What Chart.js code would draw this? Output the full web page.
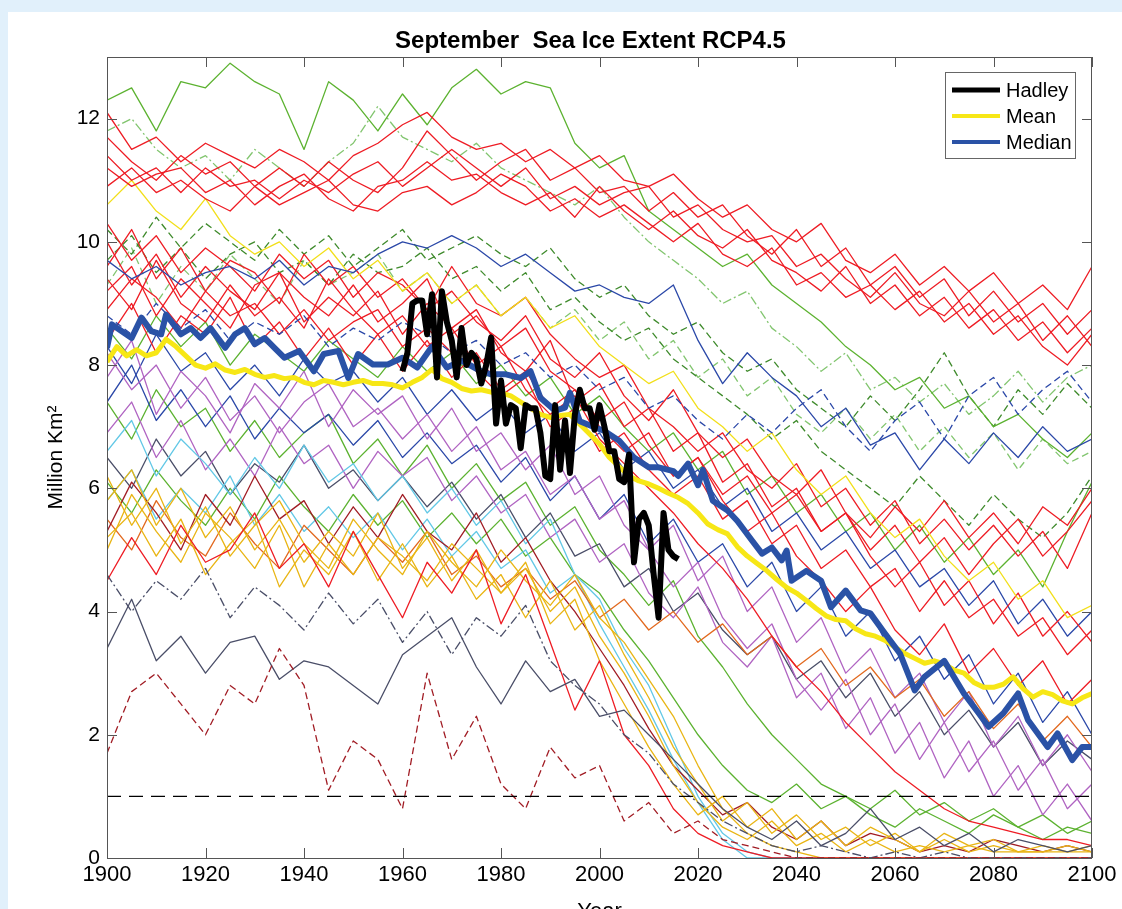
<!DOCTYPE html>
<html>
<head>
<meta charset="utf-8">
<title>September Sea Ice Extent RCP4.5</title>
<script src="https://cdn.jsdelivr.net/npm/chart.js@4.4.1/dist/chart.umd.min.js"></script>
<style>
  html, body { margin: 0; padding: 0; background: #e1f0fb; overflow: hidden; }
  #panel { position: absolute; left: 8px; top: 12px; width: 1114px; height: 897px; background: #fff; }
  #wrap { position: absolute; left: 0; top: 0; width: 1122px; height: 909px; }
</style>
</head>
<body>
<div id="panel"></div>
<div id="wrap"><canvas id="ice" width="1122" height="909"></canvas></div>
<script>
// ---- axis ticks ----
const xTicks = [1900, 1920, 1940, 1960, 1980, 2000, 2020, 2040, 2060, 2080, 2100];
const yTicks = [0, 2, 4, 6, 8, 10, 12];

// ---- observed (Hadley) ----
const hadleyYears = [1960, 1961, 1962, 1963, 1964, 1965, 1966, 1967, 1968, 1969,
  1970, 1971, 1972, 1973, 1974, 1975, 1976, 1977, 1978, 1979,
  1980, 1981, 1982, 1983, 1984, 1985, 1986, 1987, 1988, 1989,
  1990, 1991, 1992, 1993, 1994, 1995, 1996, 1997, 1998, 1999,
  2000, 2001, 2002, 2003, 2004, 2005, 2006, 2007, 2008, 2009,
  2010, 2011, 2012, 2013, 2014, 2015, 2016];
const hadley = [7.9, 8.2, 9.0, 9.05, 9.05, 8.5, 9.15, 7.8, 9.2, 8.7,
  8.4, 7.8, 8.6, 8.0, 8.2, 8.1, 7.7, 8.0, 8.45, 7.05,
  7.75, 7.05, 7.35, 7.3, 6.65, 7.35, 7.3, 7.3, 6.9, 6.2,
  6.15, 7.35, 6.3, 7.1, 6.25, 7.2, 7.6, 7.3, 7.3, 6.95,
  7.35, 7.0, 6.6, 6.6, 6.15, 6.1, 6.55, 4.8, 5.5, 5.6,
  5.4, 4.6, 3.9, 5.6, 5.0, 4.9, 4.85];

// ---- ensemble mean ----
const meanYears = [1900, 1902, 1904, 1906, 1908, 1910, 1912, 1914, 1916, 1918,
  1920, 1922, 1924, 1926, 1928, 1930, 1932, 1934, 1936, 1938,
  1940, 1942, 1944, 1946, 1948, 1950, 1952, 1954, 1956, 1958,
  1960, 1962, 1964, 1966, 1968, 1970, 1972, 1974, 1976, 1978,
  1980, 1982, 1984, 1986, 1988, 1990, 1992, 1994, 1996, 1998,
  2000, 2002, 2004, 2006, 2008, 2010, 2012, 2014, 2016, 2018,
  2020, 2022, 2024, 2026, 2028, 2030, 2032, 2034, 2036, 2038,
  2040, 2042, 2044, 2046, 2048, 2050, 2052, 2054, 2056, 2058,
  2060, 2062, 2064, 2066, 2068, 2070, 2072, 2074, 2076, 2078,
  2080, 2082, 2084, 2086, 2088, 2090, 2092, 2094, 2096, 2098, 2100];
const meanVals = [8.05, 8.3, 8.15, 8.25, 8.15, 8.2, 8.42, 8.3, 8.15, 8.0,
  7.95, 8.02, 7.92, 7.88, 7.93, 7.85, 7.8, 7.83, 7.78, 7.8,
  7.72, 7.68, 7.75, 7.72, 7.68, 7.72, 7.75, 7.7, 7.7, 7.68,
  7.63, 7.72, 7.8, 7.93, 7.78, 7.72, 7.62, 7.58, 7.6, 7.56,
  7.55, 7.5, 7.4, 7.3, 7.2, 7.15, 7.18, 7.2, 7.04, 6.88,
  6.72, 6.5, 6.35, 6.2, 6.12, 6.07, 6.0, 5.92, 5.85, 5.75,
  5.6, 5.42, 5.33, 5.26, 5.05, 4.9, 4.78, 4.66, 4.52, 4.39,
  4.3, 4.18, 4.05, 3.93, 3.87, 3.85, 3.72, 3.64, 3.6, 3.53,
  3.42, 3.32, 3.24, 3.16, 3.2, 3.15, 3.05, 3.0, 2.85, 2.77,
  2.77, 2.82, 2.94, 2.75, 2.61, 2.7, 2.65, 2.55, 2.5, 2.6, 2.67];

// ---- ensemble median ----
const medianYears = [1900, 1901, 1903, 1905, 1907, 1909, 1911, 1912, 1915, 1917,
  1919, 1921, 1924, 1926, 1928, 1930, 1932, 1934, 1936, 1939,
  1942, 1944, 1947, 1949, 1951, 1954, 1957, 1960, 1963, 1966,
  1969, 1972, 1976, 1978, 1981, 1984, 1986, 1988, 1991, 1993,
  1994, 1996, 1999, 2001, 2004, 2007, 2010, 2012, 2015, 2016,
  2018, 2020, 2021, 2023, 2026, 2028, 2031, 2033, 2035, 2037,
  2038, 2039, 2042, 2045, 2047, 2050, 2053, 2055, 2058, 2061,
  2064, 2066, 2070, 2074, 2077, 2079, 2082, 2085, 2087, 2091,
  2093, 2096, 2098, 2100];
const medianVals = [8.28, 8.66, 8.55, 8.44, 8.77, 8.55, 8.5, 8.82, 8.5, 8.6,
  8.44, 8.6, 8.28, 8.5, 8.6, 8.34, 8.44, 8.28, 8.12, 8.23,
  7.9, 8.18, 8.23, 7.79, 8.18, 8.01, 8.01, 8.12, 7.96, 8.3,
  7.96, 8.07, 7.9, 7.85, 7.85, 7.79, 7.9, 7.47, 7.26, 7.31,
  7.55, 7.09, 6.99, 6.93, 6.77, 6.5, 6.34, 6.34, 6.28, 6.2,
  6.4, 6.05, 6.3, 5.8, 5.64, 5.47, 5.15, 4.94, 5.04, 4.83,
  4.99, 4.5, 4.66, 4.5, 4.07, 4.34, 4.02, 3.97, 3.64, 3.32,
  2.72, 2.94, 3.2, 2.67, 2.35, 2.13, 2.35, 2.67, 2.24, 1.8,
  2.02, 1.59, 1.8, 1.8];

// ---- reference line ----
const refYears = [1900, 2100];
const refVals = [1, 1];

// ---- individual model runs (every 5 years) ----
const modelYears = [1900, 1905, 1910, 1915, 1920, 1925, 1930, 1935, 1940, 1945,
  1950, 1955, 1960, 1965, 1970, 1975, 1980, 1985, 1990, 1995,
  2000, 2005, 2010, 2015, 2020, 2025, 2030, 2035, 2040, 2045,
  2050, 2055, 2060, 2065, 2070, 2075, 2080, 2085, 2090, 2095, 2100];

const r1 = [12.1, 11.5, 11.7, 11.3, 11.6, 11.4, 11.2, 11.5, 11.3, 11.0, 11.4, 11.6, 11.9, 12.1, 11.7, 11.5, 11.6, 11.3, 11.5, 11.2, 11.4, 11.0, 10.9, 11.1, 10.7, 10.4, 10.6, 10.2, 10.0, 10.3, 9.7, 9.5, 9.8, 9.3, 9.6, 9.2, 9.5, 9.0, 9.3, 8.9, 9.6];
const r2 = [11.7, 11.3, 11.0, 11.4, 11.1, 11.3, 10.9, 11.2, 10.9, 11.3, 11.0, 10.8, 11.2, 11.8, 11.4, 11.0, 11.3, 11.5, 11.0, 11.2, 10.8, 10.9, 10.5, 10.8, 10.4, 10.6, 10.1, 9.8, 10.2, 9.6, 9.9, 9.3, 9.6, 9.1, 9.4, 8.8, 9.2, 8.7, 9.0, 8.5, 8.9];
const r3 = [11.4, 11.0, 11.2, 10.8, 11.2, 10.9, 11.0, 10.7, 11.0, 10.8, 11.1, 11.3, 10.9, 11.2, 11.5, 11.2, 10.9, 11.2, 10.7, 10.9, 10.6, 10.8, 10.9, 10.4, 10.6, 10.2, 10.0, 10.1, 9.6, 9.8, 9.4, 9.1, 9.5, 9.0, 8.8, 9.2, 8.7, 9.0, 8.4, 8.8, 8.3];
const r4 = [11.2, 10.9, 11.1, 11.2, 10.8, 11.0, 10.6, 10.9, 11.1, 10.7, 10.5, 10.9, 11.0, 11.3, 11.0, 11.1, 10.8, 10.6, 10.8, 10.4, 10.9, 10.5, 10.2, 10.5, 10.1, 9.9, 10.2, 9.7, 9.5, 9.2, 9.6, 9.0, 9.3, 8.8, 9.1, 8.6, 8.9, 8.4, 8.7, 8.2, 8.6];
const r5 = [10.9, 11.2, 10.8, 11.0, 10.7, 10.5, 10.9, 10.6, 10.8, 11.0, 10.6, 10.5, 10.8, 10.9, 10.6, 10.8, 11.1, 10.9, 10.5, 10.7, 10.4, 10.6, 10.3, 10.0, 10.3, 9.8, 9.6, 9.9, 9.3, 9.5, 9.1, 9.3, 8.9, 9.2, 8.7, 9.0, 8.5, 8.8, 8.3, 8.0, 8.5];
const r6 = [9.6, 10.2, 9.4, 9.9, 9.2, 9.7, 9.5, 9.0, 9.8, 9.3, 9.6, 9.1, 9.4, 8.9, 9.2, 8.7, 8.4, 8.8, 8.1, 7.8, 8.2, 7.5, 7.1, 7.6, 6.9, 6.5, 6.8, 6.2, 5.9, 6.3, 5.6, 5.2, 5.7, 5.3, 5.8, 5.2, 5.6, 5.1, 5.7, 5.4, 6.0];
const r7 = [9.2, 9.6, 8.8, 9.4, 9.0, 8.6, 9.3, 9.5, 8.7, 9.1, 8.8, 9.2, 8.5, 9.0, 8.6, 8.9, 8.2, 7.9, 8.4, 7.4, 7.7, 7.0, 7.3, 6.6, 6.9, 6.1, 6.4, 5.7, 6.0, 5.3, 5.6, 4.9, 4.4, 4.8, 4.1, 4.5, 3.8, 4.3, 3.6, 4.0, 3.5];
const r8 = [10.0, 9.3, 9.8, 9.1, 9.6, 9.2, 8.9, 9.5, 9.1, 8.8, 9.3, 8.7, 9.0, 9.4, 8.5, 8.8, 8.3, 8.6, 7.9, 7.6, 7.1, 7.4, 6.7, 6.2, 6.5, 5.8, 5.3, 5.6, 4.9, 4.5, 4.0, 4.4, 3.7, 3.3, 3.8, 3.0, 3.4, 2.8, 3.2, 2.5, 2.9];
const r9 = [9.4, 8.9, 9.7, 9.0, 8.7, 9.3, 8.8, 9.1, 8.6, 9.4, 8.9, 8.5, 8.8, 8.3, 8.6, 8.0, 8.3, 7.6, 7.2, 7.5, 6.8, 6.4, 6.0, 5.6, 5.1, 4.7, 4.2, 3.6, 3.1, 2.7, 2.2, 1.8, 1.4, 1.1, 0.8, 0.6, 0.5, 0.4, 0.3, 0.3, 0.2];
const r10 = [8.9, 9.4, 9.1, 8.6, 9.2, 8.8, 9.0, 8.5, 8.9, 8.4, 8.7, 8.9, 8.3, 8.6, 8.2, 7.9, 7.5, 7.8, 7.0, 7.3, 6.6, 6.9, 6.3, 5.9, 6.2, 5.5, 5.8, 5.1, 5.4, 4.7, 5.0, 4.4, 4.7, 4.0, 4.5, 3.9, 4.2, 3.6, 3.9, 3.3, 3.7];
const r11 = [4.5, 5.2, 4.6, 5.4, 4.8, 5.0, 5.6, 4.7, 5.1, 4.4, 5.3, 4.6, 3.9, 4.8, 4.3, 5.0, 3.8, 4.6, 3.5, 2.4, 3.2, 2.0, 1.5, 0.8, 0.4, 0.2, 0.1, 0.0, 0.0, 0.0, 0.0, 0.0, 0.0, 0.0, 0.0, 0.0, 0.0, 0.0, 0.0, 0.0, 0.0];
const r12 = [8.4, 9.0, 8.2, 8.8, 8.5, 9.1, 8.3, 8.7, 8.1, 8.6, 8.0, 8.5, 7.9, 8.4, 7.8, 8.2, 7.6, 7.9, 7.3, 7.6, 7.0, 6.6, 6.9, 6.2, 6.5, 5.9, 6.2, 5.6, 5.9, 5.3, 5.6, 5.0, 5.4, 4.8, 5.2, 4.6, 5.1, 5.5, 4.9, 5.3, 5.8];
const r13 = [10.3, 9.7, 10.1, 9.5, 9.9, 9.6, 9.2, 9.8, 9.4, 9.7, 9.1, 9.5, 9.3, 8.9, 9.6, 9.0, 8.8, 9.1, 8.5, 8.1, 7.8, 8.0, 7.3, 7.0, 6.6, 6.9, 6.3, 6.0, 6.4, 5.7, 6.0, 5.4, 5.8, 5.1, 5.5, 5.0, 5.4, 4.9, 5.3, 4.7, 5.6];
const g1 = [12.3, 12.5, 11.8, 12.6, 12.5, 12.9, 12.6, 12.4, 11.5, 12.6, 12.3, 11.8, 12.4, 11.9, 12.5, 12.8, 12.4, 12.6, 12.5, 11.6, 11.2, 11.4, 10.5, 10.2, 9.9, 9.6, 9.8, 9.3, 9.0, 8.7, 8.3, 8.0, 7.6, 7.8, 7.3, 7.5, 7.0, 7.2, 6.8, 6.5, 6.9];
const g2 = [11.8, 12.0, 11.5, 11.2, 11.4, 11.0, 11.5, 11.2, 10.9, 11.3, 11.6, 12.2, 11.7, 11.5, 11.3, 11.6, 11.2, 11.0, 10.8, 10.6, 10.9, 10.4, 10.0, 9.7, 9.4, 9.0, 9.2, 8.6, 8.3, 7.9, 8.2, 7.6, 7.8, 7.4, 7.7, 7.2, 7.5, 7.9, 7.4, 7.8, 8.0];
const g3 = [10.2, 9.8, 10.4, 9.9, 10.3, 10.0, 9.7, 10.2, 9.8, 10.1, 9.6, 9.9, 10.2, 9.7, 9.9, 10.1, 9.8, 9.6, 9.9, 9.4, 9.1, 9.3, 8.8, 8.5, 8.7, 8.2, 7.9, 8.1, 7.6, 7.3, 7.0, 7.5, 7.1, 7.6, 8.2, 7.5, 7.0, 7.6, 7.2, 7.7, 7.3];
const g4 = [9.7, 10.1, 9.5, 9.9, 9.4, 9.8, 10.0, 9.5, 9.7, 9.3, 9.8, 9.5, 9.6, 9.9, 9.4, 9.6, 9.2, 9.5, 8.9, 9.1, 8.7, 8.4, 8.6, 8.1, 7.8, 7.5, 7.2, 6.8, 7.1, 6.6, 6.3, 6.0, 5.7, 6.2, 5.8, 5.4, 5.9, 5.5, 5.2, 5.6, 6.2];
const g5 = [7.4, 6.8, 7.6, 7.0, 7.3, 6.6, 7.1, 6.5, 6.9, 7.2, 6.4, 6.8, 6.2, 6.7, 6.0, 6.4, 5.8, 6.1, 5.4, 5.7, 5.0, 4.6, 4.1, 4.5, 3.6, 3.1, 2.5, 2.0, 1.6, 1.2, 1.0, 0.8, 1.1, 0.7, 0.9, 0.6, 0.8, 0.5, 0.7, 0.4, 0.6];
const g6 = [6.1, 5.6, 6.3, 5.8, 5.4, 6.0, 5.5, 6.2, 5.7, 5.3, 5.9, 5.4, 5.8, 5.2, 5.6, 5.1, 5.5, 4.9, 5.2, 4.6, 4.3, 3.7, 3.2, 2.6, 2.0, 1.5, 1.1, 0.9, 1.2, 0.8, 1.0, 0.7, 0.5, 0.8, 0.6, 0.4, 0.7, 0.5, 0.3, 0.5, 0.4];
const g7 = [8.6, 8.1, 8.8, 8.3, 8.7, 8.0, 8.5, 8.2, 7.9, 8.4, 8.1, 7.8, 8.3, 7.9, 8.2, 7.7, 8.0, 7.5, 7.8, 7.2, 7.5, 7.0, 6.6, 6.9, 6.3, 6.6, 5.9, 6.2, 5.6, 5.9, 5.3, 5.6, 5.0, 5.4, 4.8, 5.2, 4.6, 5.0, 4.4, 5.3, 6.1];
const g8 = [9.3, 9.9, 9.0, 9.6, 9.2, 9.8, 9.4, 9.0, 9.7, 9.3, 9.5, 9.8, 9.2, 9.5, 9.0, 9.3, 8.8, 9.1, 8.6, 8.9, 8.4, 8.7, 8.1, 8.4, 7.8, 8.1, 7.5, 7.8, 7.2, 6.9, 7.3, 6.8, 7.2, 6.6, 7.0, 6.5, 6.9, 6.3, 6.8, 6.4, 6.6];
const b1 = [9.7, 9.4, 9.6, 9.3, 9.5, 9.6, 9.4, 9.7, 9.3, 9.6, 9.5, 9.8, 10.0, 9.9, 10.1, 9.9, 9.6, 9.8, 9.5, 9.2, 9.3, 9.1, 9.0, 9.3, 8.4, 7.7, 8.2, 7.8, 7.5, 7.0, 7.3, 6.7, 6.9, 6.3, 6.8, 6.4, 6.9, 6.5, 7.0, 6.6, 6.8];
const b2 = [8.8, 8.5, 9.0, 8.6, 8.9, 8.4, 8.7, 8.5, 8.8, 8.3, 8.6, 8.4, 8.7, 8.5, 8.2, 8.4, 8.0, 8.2, 7.8, 8.0, 7.6, 7.8, 7.3, 7.5, 7.1, 6.8, 7.2, 6.9, 7.3, 7.6, 7.0, 6.6, 7.1, 7.4, 6.8, 7.5, 7.8, 7.2, 7.6, 7.9, 7.4];
const b3 = [8.3, 7.7, 8.5, 7.9, 8.2, 7.6, 8.0, 7.5, 8.1, 7.7, 7.9, 7.4, 7.8, 7.2, 7.6, 7.1, 7.4, 6.9, 7.2, 6.6, 6.9, 6.3, 6.6, 6.0, 6.3, 5.7, 6.0, 5.3, 5.6, 5.0, 5.3, 4.7, 5.0, 4.4, 4.7, 4.1, 4.5, 3.8, 4.2, 3.6, 4.0];
const b4 = [7.4, 8.0, 7.1, 7.6, 7.0, 7.5, 6.8, 7.3, 6.9, 7.2, 6.7, 7.1, 6.5, 6.9, 6.4, 6.7, 6.1, 6.5, 5.8, 6.2, 5.5, 5.9, 5.1, 5.5, 4.8, 5.1, 4.4, 4.8, 4.0, 4.4, 3.6, 4.0, 3.2, 3.6, 2.9, 3.3, 2.5, 3.0, 2.2, 2.7, 2.0];
const p1 = [7.8, 8.4, 7.2, 7.9, 7.5, 6.9, 7.7, 7.3, 7.9, 7.0, 7.6, 7.2, 7.5, 6.8, 7.3, 6.6, 6.9, 6.3, 6.7, 5.9, 6.2, 5.4, 5.0, 4.4, 4.8, 3.9, 3.4, 3.8, 2.9, 2.4, 2.9, 2.0, 2.5, 1.6, 2.2, 1.4, 1.9, 1.1, 1.6, 0.8, 1.2];
const p2 = [6.9, 7.4, 6.5, 7.1, 6.3, 6.8, 6.2, 7.0, 6.4, 6.7, 6.0, 6.6, 6.2, 6.5, 5.8, 6.2, 5.6, 5.9, 5.2, 5.5, 4.8, 5.1, 4.3, 3.9, 4.4, 3.5, 3.1, 3.6, 2.6, 3.0, 2.1, 2.6, 1.7, 2.2, 1.3, 1.9, 1.0, 1.5, 0.7, 1.2, 0.6];
const p3 = [8.2, 7.6, 8.0, 7.3, 7.8, 7.1, 7.5, 6.9, 7.4, 7.7, 7.0, 7.3, 6.8, 7.2, 6.6, 7.0, 6.3, 6.6, 5.9, 6.2, 5.5, 5.8, 5.0, 5.4, 4.5, 4.9, 4.0, 4.4, 3.5, 3.9, 3.0, 3.4, 2.6, 3.0, 2.2, 2.7, 1.8, 2.3, 1.5, 2.0, 1.4];
const c1 = [6.6, 7.1, 6.2, 6.8, 6.4, 5.9, 6.5, 6.0, 6.7, 6.1, 6.4, 5.8, 6.2, 5.6, 6.0, 5.4, 5.8, 5.1, 5.5, 4.6, 4.2, 3.4, 2.8, 1.9, 1.0, 0.4, 0.1, 0.0, 0.0, 0.0, 0.0, 0.0, 0.0, 0.0, 0.0, 0.0, 0.0, 0.0, 0.0, 0.0, 0.0];
const c2 = [5.8, 6.3, 5.5, 6.0, 5.6, 6.2, 5.4, 5.9, 5.3, 5.7, 5.2, 5.6, 5.0, 5.5, 4.9, 5.3, 4.7, 5.0, 4.3, 4.6, 3.8, 3.1, 2.4, 1.6, 0.9, 0.3, 0.0, 0.0, 0.0, 0.0, 0.0, 0.0, 0.0, 0.0, 0.0, 0.0, 0.0, 0.0, 0.0, 0.0, 0.0];
const y1 = [5.8, 6.3, 5.4, 6.0, 5.2, 5.7, 5.0, 5.5, 4.8, 5.3, 4.9, 5.6, 4.7, 5.2, 4.5, 5.0, 4.3, 4.7, 4.0, 4.4, 3.6, 3.0, 2.3, 1.5, 0.9, 0.5, 0.3, 0.6, 0.2, 0.4, 0.1, 0.3, 0.1, 0.2, 0.1, 0.2, 0.1, 0.1, 0.1, 0.2, 0.1];
const y2 = [5.2, 5.6, 4.9, 5.5, 4.6, 5.1, 5.5, 4.4, 5.0, 4.6, 5.3, 4.5, 5.1, 4.4, 4.9, 4.2, 4.6, 3.9, 4.5, 3.7, 4.1, 3.3, 2.6, 1.8, 1.2, 0.6, 0.9, 0.4, 0.7, 0.3, 0.5, 0.2, 0.4, 0.1, 0.3, 0.1, 0.2, 0.1, 0.1, 0.1, 0.1];
const y3 = [6.2, 5.4, 6.0, 5.1, 5.7, 4.9, 5.4, 5.8, 5.1, 4.7, 5.5, 5.0, 4.6, 5.3, 4.8, 4.4, 5.0, 4.5, 4.1, 4.6, 3.9, 3.5, 2.9, 2.3, 1.5, 0.8, 0.4, 0.2, 0.1, 0.0, 0.0, 0.0, 0.0, 0.0, 0.0, 0.0, 0.0, 0.0, 0.0, 0.0, 0.0];
const y4 = [5.0, 5.9, 5.3, 4.8, 5.6, 5.2, 4.7, 5.4, 4.4, 5.1, 4.6, 5.2, 4.9, 4.5, 5.1, 4.7, 4.3, 4.8, 3.8, 4.2, 3.2, 2.5, 1.8, 1.2, 0.7, 1.0, 0.5, 0.8, 0.3, 0.6, 0.2, 0.5, 0.3, 0.1, 0.4, 0.2, 0.3, 0.1, 0.2, 0.1, 0.2];
const y5 = [10.6, 11.0, 10.5, 10.2, 10.7, 10.1, 9.8, 10.0, 9.6, 9.9, 9.4, 9.7, 9.2, 9.5, 9.0, 9.3, 8.8, 9.1, 8.6, 8.8, 8.3, 8.0, 7.7, 7.9, 7.3, 7.0, 6.6, 6.9, 6.3, 5.9, 6.2, 5.6, 5.2, 5.5, 4.9, 4.5, 4.8, 4.2, 4.5, 3.9, 4.1];
const s1 = [3.4, 4.2, 3.2, 3.6, 3.0, 3.5, 3.6, 2.9, 3.2, 3.1, 2.8, 2.5, 3.3, 3.6, 3.9, 3.1, 2.5, 3.2, 2.7, 2.9, 2.3, 2.4, 2.0, 1.6, 1.2, 0.8, 0.5, 0.3, 0.6, 0.2, 0.4, 0.8, 0.3, 0.5, 0.2, 0.4, 0.1, 0.3, 0.2, 0.1, 0.2];
const s2 = [4.6, 4.0, 4.5, 4.2, 4.7, 3.9, 4.4, 4.1, 3.7, 4.3, 3.8, 4.2, 3.5, 4.0, 3.3, 3.9, 3.6, 4.1, 3.2, 2.8, 2.5, 2.0, 1.7, 1.2, 0.9, 0.6, 0.4, 0.2, 0.1, 0.2, 0.1, 0.0, 0.1, 0.0, 0.1, 0.0, 0.0, 0.0, 0.0, 0.0, 0.0];
const s3 = [6.5, 6.0, 6.8, 6.2, 6.6, 5.9, 6.4, 6.1, 6.7, 6.0, 6.3, 5.8, 6.2, 5.7, 6.1, 5.5, 5.9, 5.2, 5.6, 4.9, 5.1, 4.4, 4.7, 4.0, 4.3, 3.7, 3.3, 3.6, 2.9, 3.2, 2.6, 3.0, 2.3, 2.7, 2.0, 2.4, 1.8, 2.2, 1.5, 1.9, 1.6];
const d1 = [1.7, 2.7, 3.0, 2.5, 2.0, 2.8, 2.5, 3.4, 2.8, 1.1, 1.9, 1.6, 0.8, 3.0, 1.6, 2.3, 1.2, 0.8, 1.8, 1.3, 1.5, 0.6, 0.9, 0.4, 0.6, 0.3, 0.2, 0.1, 0.0, 0.0, 0.0, 0.0, 0.0, 0.0, 0.0, 0.0, 0.0, 0.0, 0.0, 0.0, 0.0];
const d2 = [5.3, 6.1, 5.6, 5.0, 5.9, 5.4, 6.2, 5.5, 5.8, 5.1, 5.7, 5.2, 5.9, 5.3, 5.0, 5.6, 4.8, 5.2, 4.5, 4.0, 3.4, 2.8, 2.1, 1.5, 1.1, 0.7, 0.9, 0.5, 0.3, 0.6, 0.2, 0.4, 0.3, 0.1, 0.2, 0.1, 0.3, 0.2, 0.1, 0.2, 0.1];
const o1 = [5.5, 5.0, 5.8, 5.2, 4.9, 5.6, 5.1, 4.7, 5.4, 5.0, 4.6, 5.2, 4.8, 5.3, 4.6, 4.9, 4.4, 4.7, 4.2, 4.5, 3.9, 4.2, 3.7, 4.0, 3.5, 3.8, 3.3, 3.6, 3.1, 3.4, 2.8, 3.1, 2.6, 2.9, 2.3, 2.7, 2.1, 2.5, 1.9, 2.3, 1.8];

// ---- styles ----
const FONT = '"Liberation Sans", Arial, Helvetica, sans-serif';
const RED = '#ee1c24', GREEN = '#5cb230', DKGREEN = '#3e8a2b', LTGREEN = '#82c56f';
const BLUE = '#2b48a8', PURPLE = '#b064c2', CYAN = '#62c8e6', GOLD = '#e9b514';
const YELLOW = '#f2df1a', SLATE = '#4a4e68', DKRED = '#a11c24', ORANGE = '#e2691f';
const DASH = { solid: [], dash: [7, 4], dashdot: [9, 3, 2, 3] };

// draw order: first entry ends up on top
const models = [
  [r1, RED, 'solid'], [r2, RED, 'solid'], [r3, RED, 'solid'], [r4, RED, 'solid'], [r5, RED, 'solid'],
  [d1, DKRED, 'dash'], [s1, SLATE, 'solid'], [s2, SLATE, 'dashdot'],
  [b1, BLUE, 'solid'], [b2, BLUE, 'dash'], [y5, YELLOW, 'solid'],
  [r11, RED, 'solid'], [r6, RED, 'solid'], [r7, RED, 'solid'], [r8, RED, 'solid'],
  [r9, RED, 'solid'], [r10, RED, 'solid'], [r12, RED, 'solid'], [r13, RED, 'solid'],
  [y1, GOLD, 'solid'], [y2, GOLD, 'solid'], [y3, GOLD, 'solid'], [y4, GOLD, 'solid'],
  [d2, DKRED, 'solid'], [o1, ORANGE, 'solid'],
  [c1, CYAN, 'solid'], [c2, CYAN, 'solid'],
  [p1, PURPLE, 'solid'], [p2, PURPLE, 'solid'], [p3, PURPLE, 'solid'],
  [b3, BLUE, 'solid'], [b4, BLUE, 'solid'], [s3, SLATE, 'solid'],
  [g5, GREEN, 'solid'], [g6, GREEN, 'solid'], [g7, GREEN, 'solid'],
  [g1, GREEN, 'solid'], [g2, LTGREEN, 'dashdot'], [g3, DKGREEN, 'dash'],
  [g4, DKGREEN, 'dash'], [g8, LTGREEN, 'dash']
];

const pts = (xs, ys) => xs.map((x, i) => ({ x: x, y: ys[i] }));

const datasets = [
  { label: 'Hadley', data: pts(hadleyYears, hadley), borderColor: '#000', borderWidth: 6, legend: true },
  { label: 'Median', data: pts(medianYears, medianVals), borderColor: '#2a52a6', borderWidth: 6, legend: true },
  { label: 'Mean', data: pts(meanYears, meanVals), borderColor: '#f7e716', borderWidth: 5, legend: true },
  { label: 'ref', data: pts(refYears, refVals), borderColor: '#000', borderWidth: 1.3, borderDash: [14, 8] }
];
models.forEach((m, i) => {
  datasets.push({
    label: 'model ' + (i + 1),
    data: pts(modelYears, m[0]),
    borderColor: m[1],
    borderWidth: 1.3,
    borderDash: DASH[m[2]]
  });
});

const legendOrder = ['Hadley', 'Mean', 'Median'];

// ---- frame, inward ticks, titles, legend box ----
const decor = {
  id: 'decor',
  afterDraw(chart) {
    const { ctx, chartArea: a, scales: { x, y } } = chart;
    ctx.save();
    ctx.strokeStyle = '#555';
    ctx.lineWidth = 1;
    ctx.strokeRect(a.left + 0.5, a.top + 0.5, a.right - a.left - 1, a.bottom - a.top);
    ctx.beginPath();
    x.ticks.forEach(t => {
      const px = Math.round(x.getPixelForValue(t.value)) + 0.5;
      ctx.moveTo(px, a.bottom); ctx.lineTo(px, a.bottom - 10);
      ctx.moveTo(px, a.top); ctx.lineTo(px, a.top + 10);
    });
    y.ticks.forEach(t => {
      const py = Math.round(y.getPixelForValue(t.value)) + 0.5;
      ctx.moveTo(a.left, py); ctx.lineTo(a.left + 10, py);
      ctx.moveTo(a.right, py); ctx.lineTo(a.right - 10, py);
    });
    ctx.stroke();

    const cx = (a.left + a.right) / 2;
    ctx.fillStyle = '#000';
    ctx.textAlign = 'center';
    ctx.textBaseline = 'alphabetic';
    ctx.font = 'bold 24px ' + FONT;
    ctx.fillText('September  Sea Ice Extent RCP4.5', cx - 9, 48);
    ctx.font = '22px ' + FONT;
    ctx.fillText('Year', cx, 918);
    ctx.save();
    ctx.translate(62, (a.top + a.bottom) / 2);
    ctx.rotate(-Math.PI / 2);
    ctx.font = '21px ' + FONT;
    ctx.fillText('Million Km\u00B2', 0, 0);
    ctx.restore();

    // legend
    const bx = 945, by = 72, bw = 130, bh = 86;
    ctx.fillStyle = '#fff';
    ctx.fillRect(bx, by, bw, bh);
    ctx.strokeStyle = '#666';
    ctx.strokeRect(bx + 0.5, by + 0.5, bw, bh);
    ctx.font = '20px ' + FONT;
    ctx.textAlign = 'left';
    ctx.textBaseline = 'middle';
    legendOrder.forEach((name, i) => {
      const ds = chart.data.datasets.find(d => d.label === name);
      const ry = by + 18 + i * 26;
      ctx.strokeStyle = ds.borderColor;
      ctx.lineWidth = name === 'Hadley' ? 5 : 4;
      ctx.beginPath();
      ctx.moveTo(952, ry); ctx.lineTo(1000, ry);
      ctx.stroke();
      ctx.fillStyle = '#000';
      ctx.fillText(name, 1006, ry + 1);
    });
    ctx.restore();
  }
};

new Chart(document.getElementById('ice'), {
  type: 'line',
  data: { datasets: datasets },
  options: {
    responsive: false,
    devicePixelRatio: 1,
    animation: false,
    events: [],
    layout: { padding: { top: 57, right: 30, bottom: 0, left: 0 } },
    elements: {
      point: { radius: 0 },
      line: { tension: 0, fill: false, borderJoinStyle: 'round', borderCapStyle: 'butt' }
    },
    plugins: { legend: { display: false }, tooltip: { enabled: false }, title: { display: false } },
    scales: {
      x: {
        type: 'linear', min: 1900, max: 2100,
        grid: { display: false, drawTicks: false }, border: { display: false },
        afterBuildTicks: s => { s.ticks = xTicks.map(v => ({ value: v })); },
        afterFit: s => { s.height = 51; },
        ticks: { color: '#000', padding: 4, maxRotation: 0, autoSkip: false,
                 font: { family: FONT, size: 22 }, callback: v => String(v) }
      },
      y: {
        type: 'linear', min: 0, max: 13,
        grid: { display: false, drawTicks: false }, border: { display: false },
        afterBuildTicks: s => { s.ticks = yTicks.map(v => ({ value: v })); },
        afterFit: s => { s.width = 107; },
        ticks: { color: '#000', padding: 7, font: { family: FONT, size: 21 }, callback: v => String(v) }
      }
    }
  },
  plugins: [decor]
});
</script>
</body>
</html>
